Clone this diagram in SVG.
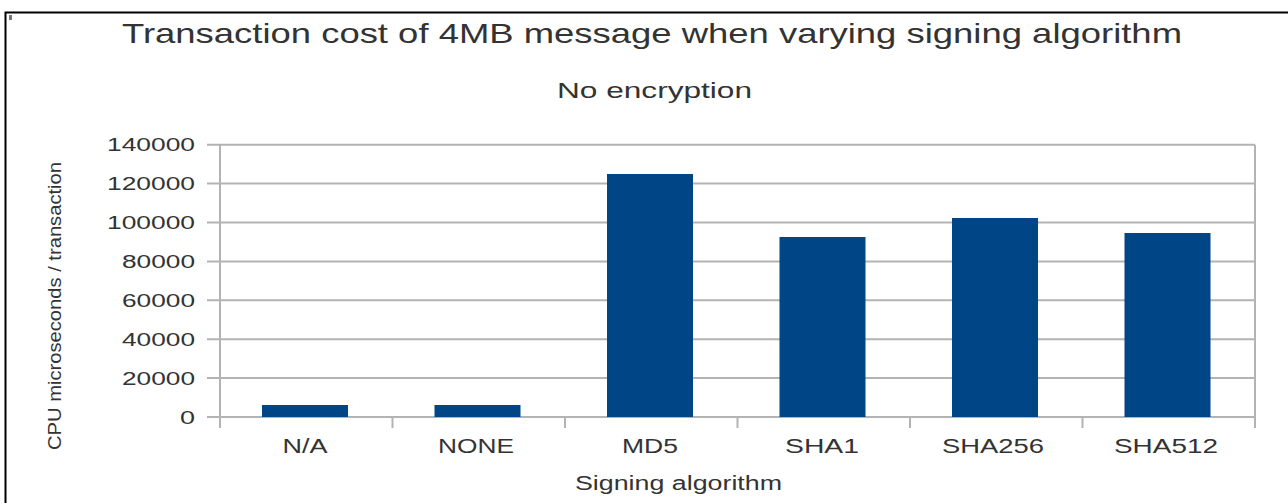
<svg xmlns="http://www.w3.org/2000/svg" width="1288" height="503" viewBox="0 0 1288 503">
<style>
text{font-family:"Liberation Sans",Arial,sans-serif;fill:#333333}
.grid{stroke:#b3b3b3;stroke-width:2;fill:none}
.bar{fill:#004586}
.tick{font-size:18px;text-anchor:end}
.cat{font-size:20px;text-anchor:middle}
</style>
<rect x="0" y="0" width="1288" height="503" fill="#ffffff"/>
<path d="M5.5 503 V12.5 H1288" stroke="#000000" stroke-width="2" fill="none"/>
<rect x="9" y="15" width="3" height="5" fill="#777777"/>
<g id="titles">
<text x="122" y="43" font-size="28" textLength="1060" lengthAdjust="spacingAndGlyphs">Transaction cost of 4MB message when varying signing algorithm</text>
<text x="557" y="98" font-size="22" textLength="195" lengthAdjust="spacingAndGlyphs">No encryption</text>
</g>
<g id="grid">
<path class="grid" d="M207 144.7H1255M207 183.6H1255M207 222.5H1255M207 261.4H1255M207 300.3H1255M207 339.2H1255M207 378.1H1255M207 417H1255"/>
<path class="grid" d="M220 144.7V428M1255 144.7V428M392.5 417V428M565 417V428M737.5 417V428M910 417V428M1082.5 417V428"/>
</g>
<g id="yticks">
<text class="tick" x="195" y="151" textLength="88" lengthAdjust="spacingAndGlyphs">140000</text>
<text class="tick" x="195" y="190" textLength="88" lengthAdjust="spacingAndGlyphs">120000</text>
<text class="tick" x="195" y="229" textLength="88" lengthAdjust="spacingAndGlyphs">100000</text>
<text class="tick" x="195" y="268" textLength="73" lengthAdjust="spacingAndGlyphs">80000</text>
<text class="tick" x="195" y="307" textLength="73" lengthAdjust="spacingAndGlyphs">60000</text>
<text class="tick" x="195" y="346" textLength="73" lengthAdjust="spacingAndGlyphs">40000</text>
<text class="tick" x="195" y="384.5" textLength="73" lengthAdjust="spacingAndGlyphs">20000</text>
<text class="tick" x="195" y="423.5" textLength="15" lengthAdjust="spacingAndGlyphs">0</text>
</g>
<g id="bar-na"><rect class="bar" x="262" y="405" width="86" height="12"/></g>
<g id="bar-none"><rect class="bar" x="434.5" y="405" width="86" height="12"/></g>
<g id="bar-md5"><rect class="bar" x="607" y="174" width="86" height="243"/></g>
<g id="bar-sha1"><rect class="bar" x="779.5" y="237" width="86" height="180"/></g>
<g id="bar-sha256"><rect class="bar" x="952" y="218" width="86" height="199"/></g>
<g id="bar-sha512"><rect class="bar" x="1124.5" y="233" width="86" height="184"/></g>
<g id="xlabels">
<text class="cat" x="305" y="453" textLength="45" lengthAdjust="spacingAndGlyphs">N/A</text>
<text class="cat" x="476" y="453" textLength="76" lengthAdjust="spacingAndGlyphs">NONE</text>
<text class="cat" x="650" y="453" textLength="56" lengthAdjust="spacingAndGlyphs">MD5</text>
<text class="cat" x="822" y="453" textLength="74" lengthAdjust="spacingAndGlyphs">SHA1</text>
<text class="cat" x="993" y="453" textLength="102" lengthAdjust="spacingAndGlyphs">SHA256</text>
<text class="cat" x="1166" y="453" textLength="104" lengthAdjust="spacingAndGlyphs">SHA512</text>
</g>
<g id="axis-titles">
<text x="575" y="490" font-size="20" textLength="207" lengthAdjust="spacingAndGlyphs">Signing algorithm</text>
<text transform="translate(61 306) rotate(-90)" x="0" y="0" font-size="19" text-anchor="middle" textLength="288" lengthAdjust="spacingAndGlyphs">CPU microseconds / transaction</text>
</g>
</svg>
